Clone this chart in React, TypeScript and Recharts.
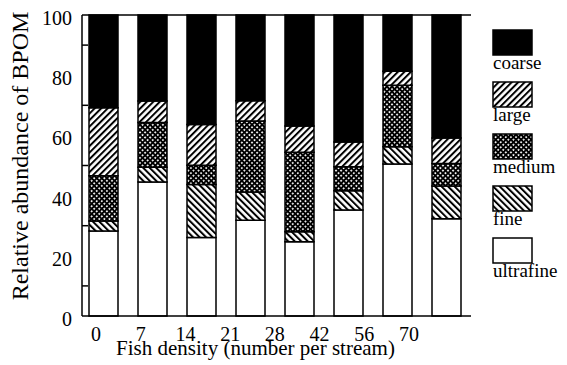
import React from "react";
import { BarChart, Bar, XAxis, YAxis, ReferenceLine } from "recharts";

const densities = ["0", "7", "14", "21", "28", "42", "56", "70"];
const ultrafine = [28.2, 44.5, 26.1, 31.8, 24.7, 35.2, 50.5, 32.3];
const fine = [3.4, 4.9, 17.6, 9.4, 3.3, 6.4, 5.7, 10.9];
const medium = [15.0, 14.9, 6.4, 23.6, 26.4, 8.0, 20.5, 7.5];
const large = [22.6, 7.1, 13.5, 6.7, 8.7, 8.2, 4.6, 8.4];
const coarse = [30.8, 28.6, 36.4, 28.5, 36.9, 42.2, 18.7, 40.9];
const yTicks = [0, 10, 20, 30, 40, 50, 60, 70, 80, 90, 100];

const seriesKeys = ["ultrafine", "fine", "medium", "large", "coarse"];
const legendOrder = ["coarse", "large", "medium", "fine", "ultrafine"];

const data = densities.map((d, i) => ({
  density: d,
  ultrafine: ultrafine[i],
  fine: fine[i],
  medium: medium[i],
  large: large[i],
  coarse: coarse[i],
}));

const FONT = '"Liberation Serif", "Times New Roman", Times, "DejaVu Serif", serif';
const txt = (size: number) => ({ fontFamily: FONT, fontSize: size });

const Patterns = ({ p }: { p: string }) => (
  <defs>
    <pattern id={`${p}large`} patternUnits="userSpaceOnUse" width="4.6" height="4.6" patternTransform="rotate(45)">
      <rect width="4.6" height="4.6" fill="#fff" />
      <line x1="1" y1="0" x2="1" y2="4.6" stroke="#000" strokeWidth="2" />
    </pattern>
    <pattern id={`${p}fine`} patternUnits="userSpaceOnUse" width="4.6" height="4.6" patternTransform="rotate(-45)">
      <rect width="4.6" height="4.6" fill="#fff" />
      <line x1="1" y1="0" x2="1" y2="4.6" stroke="#000" strokeWidth="2" />
    </pattern>
    <pattern id={`${p}medium`} patternUnits="userSpaceOnUse" width="3.6" height="3.6" patternTransform="rotate(45)">
      <rect width="3.6" height="3.6" fill="#000" />
      <rect x="1" y="1" width="1.7" height="1.7" fill="#fff" />
    </pattern>
  </defs>
);

const fills: Record<string, (p: string) => string> = {
  ultrafine: () => "#fff",
  fine: (p) => `url(#${p}fine)`,
  medium: (p) => `url(#${p}medium)`,
  large: (p) => `url(#${p}large)`,
  coarse: () => "#000",
};

const YTick = (props: any) => {
  const { x, y, payload } = props;
  const v = payload.value;
  if (v % 20 === 0) {
    return (
      <text x={x} y={y + 10} textAnchor="end" style={txt(20)} fill="#000">
        {v}
      </text>
    );
  }
  return <line x1={x + 10} x2={x + 16} y1={y} y2={y} stroke="#000" strokeWidth={1.5} />;
};

const XTick = (props: any) => {
  const { x, payload } = props;
  return (
    <text x={x} y={341} textAnchor="middle" style={txt(20)} fill="#000">
      {payload.value}
    </text>
  );
};

const Legend = () => (
  <svg width={80} height={300} style={{ position: "absolute", left: 488, top: 20 }}>
    <Patterns p="lg" />
    {legendOrder.map((k, i) => (
      <g key={k}>
        <rect x={5} y={10 + i * 52} width={39} height={25} fill={fills[k]("lg")} stroke="#000" strokeWidth={1.5} />
        <text x={5} y={49 + i * 52} style={txt(19)} fill="#000">
          {k}
        </text>
      </g>
    ))}
  </svg>
);

export default function App() {
  return (
    <div style={{ position: "absolute", left: 0, top: 0, width: 567, height: 365, background: "#fff" }}>
      <BarChart
        width={567}
        height={365}
        data={data}
        margin={{ top: 15, right: 96, left: 0, bottom: 0 }}
        barCategoryGap={10}
      >
        <Patterns p="ch" />
        <XAxis xAxisId="bars" dataKey="density" hide height={0} padding={{ left: -3, right: 0 }} />
        <XAxis
          xAxisId="labels"
          dataKey="density"
          scale="point"
          padding={{ left: 14, right: 62 }}
          height={49}
          axisLine={{ stroke: "#000", strokeWidth: 1.5 }}
          tickLine={false}
          tickSize={0}
          tickMargin={0}
          tick={<XTick />}
          interval={0}
          label={{
            content: () => (
              <text x={255.5} y={355} textAnchor="middle" style={txt(21)} fill="#000">
                Fish density (number per stream)
              </text>
            ),
          }}
        />
        <YAxis
          domain={[0, 100]}
          ticks={yTicks}
          interval={0}
          width={82}
          axisLine={{ stroke: "#000", strokeWidth: 1.5 }}
          tickLine={false}
          tickSize={0}
          tickMargin={10}
          tick={<YTick />}
          label={{
            content: () => (
              <text
                x={0}
                y={0}
                transform="translate(28,156) rotate(-90)"
                textAnchor="middle"
                style={txt(24)}
                fill="#000"
              >
                Relative abundance of BPOM
              </text>
            ),
          }}
        />
        <YAxis
          yAxisId="right"
          orientation="right"
          domain={[0, 100]}
          width={0}
          tick={false}
          tickLine={false}
          axisLine={{ stroke: "#000", strokeWidth: 1.5 }}
        />
        {seriesKeys.map((k) => (
          <Bar
            key={k}
            dataKey={k}
            stackId="a"
            xAxisId="bars"
            fill={fills[k]("ch")}
            stroke="#000"
            strokeWidth={1.5}
            isAnimationActive={false}
          />
        ))}
        <ReferenceLine y={100} xAxisId="bars" stroke="#000" strokeWidth={1.5} />
      </BarChart>
      <Legend />
    </div>
  );
}
